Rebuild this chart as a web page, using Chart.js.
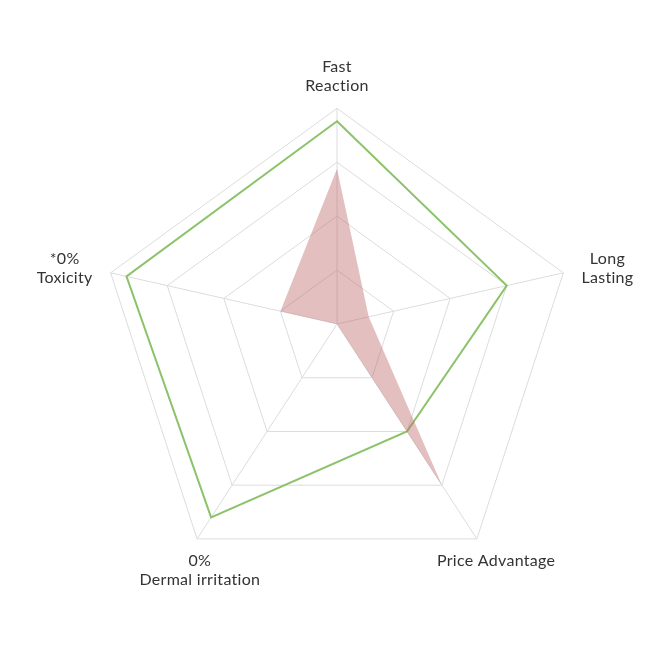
<!DOCTYPE html>
<html>
<head>
<meta charset="utf-8">
<title>Product comparison radar</title>
<script src="https://cdn.jsdelivr.net/npm/chart.js@4/dist/chart.umd.min.js"></script>
<style>
  html, body { margin: 0; padding: 0; background: #fff; }
  #wrap { width: 671px; height: 651px; }
</style>
</head>
<body>
<div id="wrap"><canvas id="radar" width="671" height="651"></canvas></div>
<script>
// axes, clockwise from the top
const axisLabels = [
    ['Fast', 'Reaction'],
    ['Long', 'Lasting'],
    ['Price Advantage'],
    ['0%', 'Dermal irritation'],
    ['*0%', 'Toxicity']
];
const shadedSeries = [72, 14, 75, 0, 25];   // pink filled shape
const lineSeries = [94, 75, 50, 90, 93];    // green outline
const scaleMax = 100;
const scaleStep = 25;

// the reference grid is slightly tilted: every ring sits a bit lower the bigger it is
const TILT = 0.094;
const LINE_H = 19;

class TiltedRadialScale extends Chart.RadialLinearScale {
    getPointPosition(index, distance, extraAngle) {
        const p = super.getPointPosition(index, distance, extraAngle);
        return { x: p.x, y: p.y + distance * TILT, angle: p.angle };
    }
}
TiltedRadialScale.id = 'tiltedRadial';
Chart.register(TiltedRadialScale);

// centred multi-line labels around the outer ring
const axisLabelPlugin = {
    id: 'axisLabels',
    afterDraw(chart) {
        const scale = chart.scales.r;
        const ctx = chart.ctx;
        ctx.save();
        ctx.font = '16px Lato';
        ctx.letterSpacing = '0.3px';   // also keeps Lato from joining "ti"
        ctx.fillStyle = '#333';
        ctx.textAlign = 'center';
        ctx.textBaseline = 'middle';
        axisLabels.forEach((lines, i) => {
            const angle = scale.getIndexAngle(i) - Math.PI / 2;
            const cos = Math.cos(angle);
            const sin = Math.sin(angle);
            const side = Math.abs(cos) > 0.9;
            const p = scale.getPointPosition(i, scale.drawingArea + (side ? 19 : 14));
            const w = Math.max(...lines.map(l => ctx.measureText(l).width));
            const h = lines.length * LINE_H;
            let cx = p.x;
            let cy = p.y;
            if (side) {
                cx += Math.sign(cos) * w / 2;
            } else if (sin < 0) {
                cy -= h / 2;
            } else {
                cx += 11;
                cy += h / 2;
            }
            lines.forEach((line, k) => {
                ctx.fillText(line, cx, cy - h / 2 + LINE_H * (k + 0.5));
            });
        });
        ctx.restore();
    }
};

new Chart(document.getElementById('radar'), {
    type: 'radar',
    data: {
        labels: axisLabels,
        datasets: [
            {
                label: 'Shaded',
                data: shadedSeries,
                backgroundColor: 'rgba(185, 95, 97, 0.4)',
                borderWidth: 0,
                pointRadius: 0,
                fill: 'origin'
            },
            {
                label: 'Line',
                data: lineSeries,
                borderColor: '#8cc36a',
                borderWidth: 2,
                backgroundColor: 'transparent',
                pointRadius: 0,
                fill: false
            }
        ]
    },
    options: {
        responsive: false,
        animation: false,
        layout: { padding: { left: 99, right: 96, top: 86, bottom: 89 } },
        plugins: {
            legend: { display: false },
            tooltip: { enabled: false }
        },
        elements: { line: { tension: 0 } },
        scales: {
            r: {
                type: 'tiltedRadial',
                min: 0,
                max: scaleMax,
                ticks: { stepSize: scaleStep, display: false },
                grid: { color: '#dcdcdc', lineWidth: 1 },
                angleLines: { color: '#dcdcdc', lineWidth: 1 },
                pointLabels: { display: false }
            }
        }
    },
    plugins: [axisLabelPlugin]
});
</script>
</body>
</html>
